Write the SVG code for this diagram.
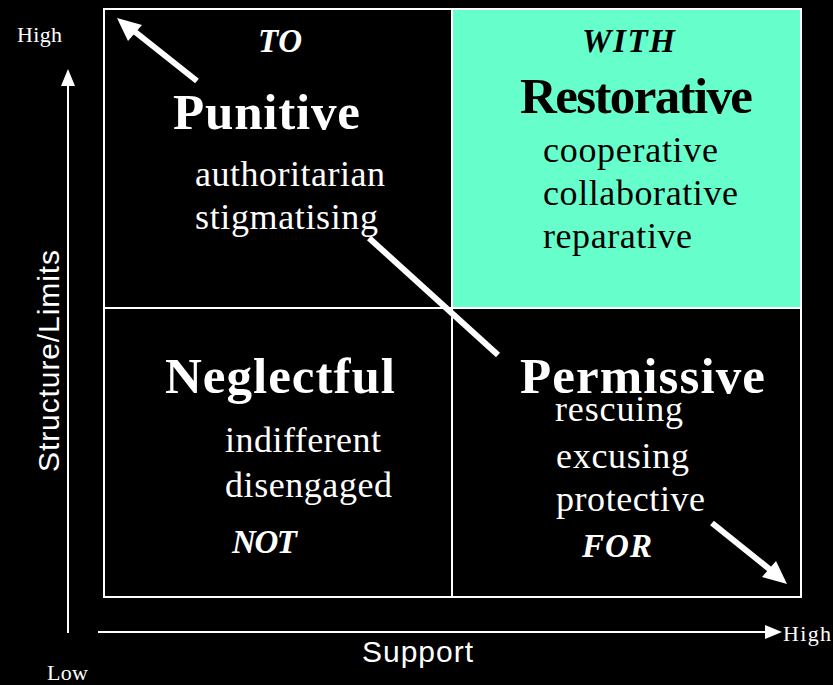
<svg xmlns="http://www.w3.org/2000/svg" width="833" height="685" viewBox="0 0 833 685">
<defs>
<style>
.serif{font-family:"Liberation Serif","Times New Roman",serif;fill:#fff}
.sans{font-family:"Liberation Sans",Arial,sans-serif;fill:#fff}
.title{font-size:51px;font-weight:bold}
.word{font-size:36px}
.prep{font-size:33px;font-weight:bold;font-style:italic}
.axis{font-size:22px}
.dark{fill:#000}
.thin{stroke:#fff;stroke-width:2;fill:none}
.thick{stroke:#fff;stroke-width:6;fill:none}
</style>
</defs>
<rect width="833" height="685" fill="#000"/>
<g id="grid">
<rect x="453" y="10" width="347" height="298" fill="#66FFCC"/>
<rect x="104" y="9" width="697" height="588" class="thin"/>
<line x1="452" y1="9" x2="452" y2="597" class="thin"/>
<line x1="104" y1="308" x2="801" y2="308" class="thin"/>
</g>
<g id="axes">
<line x1="68" y1="82" x2="68" y2="633" class="thin" stroke-width="3"/>
<polygon points="68,69 61,86 75,86" fill="#fff"/>
<line x1="98" y1="632" x2="768" y2="632" class="thin" stroke-width="3"/>
<polygon points="782,632 765,625 765,639" fill="#fff"/>
<text class="serif axis" x="17" y="42" textLength="45">High</text>
<text class="serif axis" x="47" y="680" textLength="41">Low</text>
<text class="serif axis" x="783" y="641" textLength="48">High</text>
<text class="sans" font-size="30" x="0" y="0" text-anchor="middle" textLength="222" transform="translate(59,361) rotate(-90)">Structure/Limits</text>
<text class="sans" font-size="30" x="362" y="662" textLength="111">Support</text>
</g>
<g id="connectors">
<line x1="197" y1="81" x2="134" y2="31" class="thick"/>
<polygon points="117,18 142,25 128,41" fill="#fff"/>
<line x1="369" y1="238" x2="498" y2="355" class="thick"/>
<line x1="712" y1="523" x2="773" y2="572" class="thick"/>
<polygon points="787,584 762,577 776,561" fill="#fff"/>
</g>
<g id="punitive">
<text class="serif prep" x="258" y="52" textLength="44">TO</text>
<text class="serif title" x="173" y="129" textLength="187">Punitive</text>
<text class="serif word" x="195" y="186" textLength="190">authoritarian</text>
<text class="serif word" x="195" y="229" textLength="183">stigmatising</text>
</g>
<g id="restorative">
<text class="serif prep dark" x="582" y="52" textLength="93">WITH</text>
<text class="serif title dark" x="520" y="113" textLength="233">Restorative</text>
<text class="serif word dark" x="543" y="162" textLength="175">cooperative</text>
<text class="serif word dark" x="543" y="205" textLength="195">collaborative</text>
<text class="serif word dark" x="543" y="248" textLength="149">reparative</text>
</g>
<g id="neglectful">
<text class="serif title" x="165" y="393" textLength="230">Neglectful</text>
<text class="serif word" x="225" y="452" textLength="156">indifferent</text>
<text class="serif word" x="225" y="497" textLength="167">disengaged</text>
<text class="serif prep" x="232" y="553" textLength="65">NOT</text>
</g>
<g id="permissive">
<text class="serif title" x="520" y="393" textLength="245">Permissive</text>
<text class="serif word" x="555" y="421" textLength="128">rescuing</text>
<text class="serif word" x="556" y="468" textLength="133">excusing</text>
<text class="serif word" x="556" y="511" textLength="149">protective</text>
<text class="serif prep" x="582" y="557" textLength="70">FOR</text>
</g>
</svg>
